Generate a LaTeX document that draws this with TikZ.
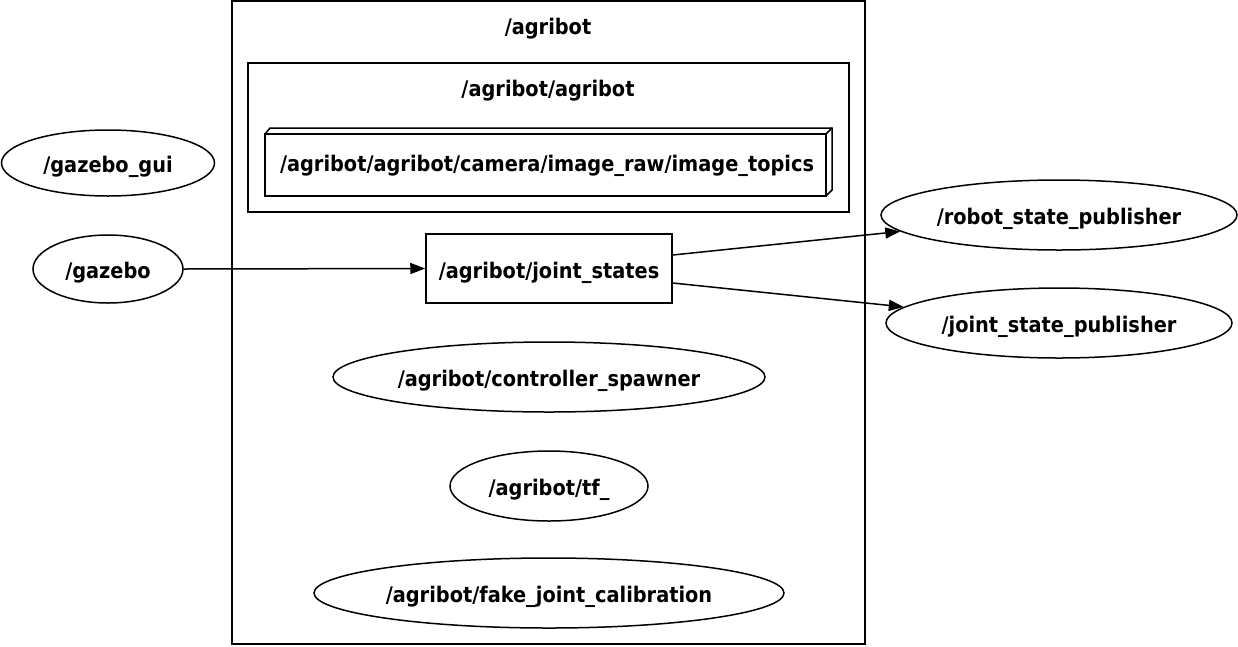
\documentclass[tikz,border=0pt]{standalone}
\usepackage{fontspec}
\setmainfont{DejaVu Sans Condensed}
\usetikzlibrary{arrows.meta,shapes.geometric}
\begin{document}
\begin{tikzpicture}[x=1pt,y=-1pt,
  every node/.style={font=\bfseries\fontsize{21.5}{24}\selectfont,text height=21pt,text depth=2pt},
  line/.style={line width=1.5pt},
  nodeell/.style={ellipse,draw,line width=1.5pt,inner sep=0pt},
  edge/.style={line width=1.5pt,-{Triangle[length=15pt,width=11pt]}}]
\useasboundingbox (0,0) rectangle (1238,646);
% clusters
\draw[line] (232,1) rectangle (865,644);
\node (agribotlbl) at (548,25) {/agribot};
\draw[line] (248,63) rectangle (849,212);
\node (agribotagribotlbl) at (548,87) {/agribot/agribot};
% 3D box
\draw[line] (265,134) rectangle (826,196);
\draw[line] (265,134) -- (270,128) -- (832,128) -- (832,190) -- (826,196);
\draw[line] (826,134) -- (832,128);
\node (cam) at (547,162) {/agribot/agribot/camera/image\_raw/image\_topics};
% joint states topic
\node[draw,line width=1.5pt,minimum width=246pt,minimum height=69pt,inner sep=0pt] (js) at (549,268.5) {/agribot/joint\_states};
% ellipses
\node[nodeell,minimum width=213pt,minimum height=66pt] (gui) at (108,163) {/gazebo\_gui};
\node[nodeell,minimum width=150pt,minimum height=68pt] (gazebo) at (108,269) {/gazebo};
\node[nodeell,minimum width=356pt,minimum height=70pt] (rsp) at (1059,215) {/robot\_state\_publisher};
\node[nodeell,minimum width=346pt,minimum height=70pt] (jsp) at (1059,323) {/joint\_state\_publisher};
\node[nodeell,minimum width=432pt,minimum height=70pt] (cs) at (549,377) {/agribot/controller\_spawner};
\node[nodeell,minimum width=198pt,minimum height=70pt] (tf) at (549,486) {/agribot/tf\_};
\node[nodeell,minimum width=470pt,minimum height=70pt] (fjc) at (549,593) {/agribot/fake\_joint\_calibration};
% edges
\draw[edge] (gazebo.east) -- (js.west);
\draw[edge] (js.east |- 0,255) -- (rsp);
\draw[edge] (js.east |- 0,283) -- (jsp);
\end{tikzpicture}
\end{document}
